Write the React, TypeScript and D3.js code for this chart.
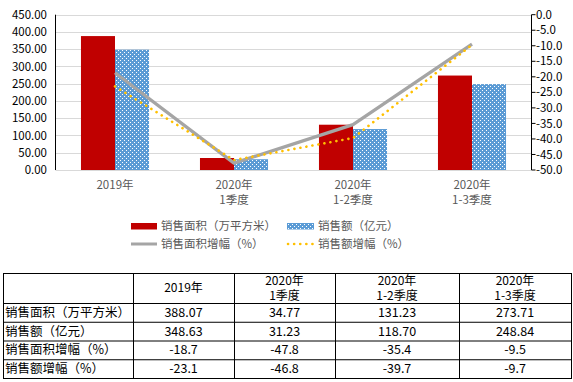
import React from "react";
import * as d3 from "d3";

const categories = ["2019年", "2020年\n1季度", "2020年\n1-2季度", "2020年\n1-3季度"];
const salesArea = [388.07, 34.77, 131.23, 273.71];
const salesAmount = [348.63, 31.23, 118.7, 248.84];
const areaGrowth = [-18.7, -47.8, -35.4, -9.5];
const amountGrowth = [-23.1, -46.8, -39.7, -9.7];
const leftTicks = [0, 50, 100, 150, 200, 250, 300, 350, 400, 450];
const rightTicks = [0, -5, -10, -15, -20, -25, -30, -35, -40, -45, -50];
const seriesNames = ["销售面积（万平方米）", "销售额（亿元）", "销售面积增幅（%）", "销售额增幅（%）"];

const FONT = "'Noto Sans CJK SC', 'Noto Sans', sans-serif";
const RED = "#C00000";
const BLUE = "#5B9BD5";
const GRAY = "#A5A5A5";
const YELLOW = "#FFC000";

export default function App() {
  const x0 = 55.5, x1 = 531.5, yTop = 14.7, yBot = 170;
  const x = d3.scaleBand<number>().domain(d3.range(categories.length)).range([x0, x1]).padding(0);
  const yL = d3.scaleLinear().domain([0, 450]).range([yBot, yTop]);
  const yR = d3.scaleLinear().domain([-50, 0]).range([yBot, yTop]);
  const bw = x.bandwidth() * 0.286;
  const cx = (i: number) => (x(i) as number) + x.bandwidth() / 2;

  const lineA = d3.line<number>().x((_, i) => cx(i)).y((d) => yR(d))(areaGrowth) || "";
  const lineB = d3.line<number>().x((_, i) => cx(i)).y((d) => yR(d))(amountGrowth) || "";

  // table layout
  const colX = [3, 133, 234, 335, 459, 571];
  const rowY = [273, 303, 321.75, 340.5, 359.25, 378];
  const rows = [salesArea.map((v) => v.toFixed(2)), salesAmount.map((v) => v.toFixed(2)), areaGrowth.map((v) => v.toFixed(1)), amountGrowth.map((v) => v.toFixed(1))];

  return (
    <svg width={573} height={382} style={{ position: "absolute", left: 0, top: 0, background: "#fff" }} fontFamily={FONT}>
      <defs>
        <pattern id="dots" width={4} height={4} patternUnits="userSpaceOnUse">
          <rect width={4} height={4} fill={BLUE} />
          <rect x={0} y={0} width={1} height={1} fill="#fff" />
          <rect x={2} y={2} width={1} height={1} fill="#fff" />
        </pattern>
      </defs>
      <rect width={573} height={382} fill="#fff" />
      {/* gridlines */}
      {leftTicks.map((t) => (
        <line key={"g" + t} x1={x0} x2={x1} y1={Math.round(yL(t)) + 0.5} y2={Math.round(yL(t)) + 0.5} stroke="#D9D9D9" strokeWidth={1} />
      ))}
      {/* left axis */}
      <line x1={x0} x2={x0} y1={yTop} y2={yBot} stroke="#000" strokeWidth={1} />
      {leftTicks.map((t) => (
        <text key={"l" + t} x={47} y={yL(t)} dy="0.36em" textAnchor="end" fontSize={11.5} fill="#000">
          {t.toFixed(2)}
        </text>
      ))}
      {/* right axis */}
      <line x1={x1} x2={x1} y1={yTop} y2={yBot} stroke="#000" strokeWidth={1} />
      {rightTicks.map((t) => (
        <g key={"r" + t}>
          <line x1={x1} x2={x1 + 4} y1={yR(t)} y2={yR(t)} stroke="#000" />
          <text x={536} y={yR(t)} dy="0.36em" fontSize={11.5} fill="#000">
            {t.toFixed(1)}
          </text>
        </g>
      ))}
      {/* bars */}
      {salesArea.map((v, i) => (
        <rect key={"a" + i} x={cx(i) - bw} y={yL(v)} width={bw} height={yBot - yL(v)} fill={RED} />
      ))}
      {salesAmount.map((v, i) => (
        <rect key={"b" + i} x={cx(i)} y={yL(v)} width={bw} height={yBot - yL(v)} fill="url(#dots)" />
      ))}
      {/* lines */}
      <path d={lineA} fill="none" stroke={GRAY} strokeWidth={3.3} strokeLinejoin="round" />
      <path d={lineB} fill="none" stroke={YELLOW} strokeWidth={2.6} strokeLinecap="round" strokeDasharray="0.1 6" />
      {/* category labels */}
      {categories.map((c, i) =>
        c.split("\n").map((s, j) => (
          <text key={"c" + i + j} x={cx(i)} y={185 + j * 14.5} dy="0.36em" textAnchor="middle" fontSize={11.5} fill="#595959">
            {s}
          </text>
        ))
      )}
      {/* legend */}
      <rect x={131} y={223} width={26} height={6.5} fill={RED} />
      <text x={161} y={226} dy="0.36em" fontSize={11.5} fill="#595959">{seriesNames[0]}</text>
      <rect x={287} y={223} width={27} height={6.5} fill="url(#dots)" />
      <text x={318} y={226} dy="0.36em" fontSize={11.5} fill="#595959">{seriesNames[1]}</text>
      <line x1={131} x2={157} y1={244} y2={244} stroke={GRAY} strokeWidth={3} />
      <text x={161} y={244} dy="0.36em" fontSize={11.5} fill="#595959">{seriesNames[2]}</text>
      <line x1={288} x2={313} y1={244} y2={244} stroke={YELLOW} strokeWidth={2.6} strokeLinecap="round" strokeDasharray="0.1 6" />
      <text x={318} y={244} dy="0.36em" fontSize={11.5} fill="#595959">{seriesNames[3]}</text>
      {/* table */}
      {rowY.map((y, i) => (
        <line key={"tr" + i} x1={colX[0]} x2={colX[colX.length - 1]} y1={y + 0.5} y2={y + 0.5} stroke="#000" />
      ))}
      {colX.map((cxv, i) => (
        <line key={"tc" + i} x1={cxv + 0.5} x2={cxv + 0.5} y1={rowY[0]} y2={rowY[rowY.length - 1] + 1} stroke="#000" />
      ))}
      {categories.map((c, i) => {
        const parts = c.split("\n");
        const mid = (colX[i + 1] + colX[i + 2]) / 2;
        const cy = (rowY[0] + rowY[1]) / 2;
        return parts.map((s, j) => (
          <text key={"th" + i + j} x={mid} y={cy + (j - (parts.length - 1) / 2) * 15} dy="0.36em" textAnchor="middle" fontSize={12} fill="#000">
            {s}
          </text>
        ));
      })}
      {rows.map((r, ri) => (
        <g key={"row" + ri}>
          <text x={5} y={(rowY[ri + 1] + rowY[ri + 2]) / 2} dy="0.36em" fontSize={12.5} fill="#000">
            {seriesNames[ri]}
          </text>
          {r.map((v, ci) => (
            <text key={ci} x={(colX[ci + 1] + colX[ci + 2]) / 2} y={(rowY[ri + 1] + rowY[ri + 2]) / 2} dy="0.36em" textAnchor="middle" fontSize={12.5} fill="#000">
              {v}
            </text>
          ))}
        </g>
      ))}
    </svg>
  );
}
